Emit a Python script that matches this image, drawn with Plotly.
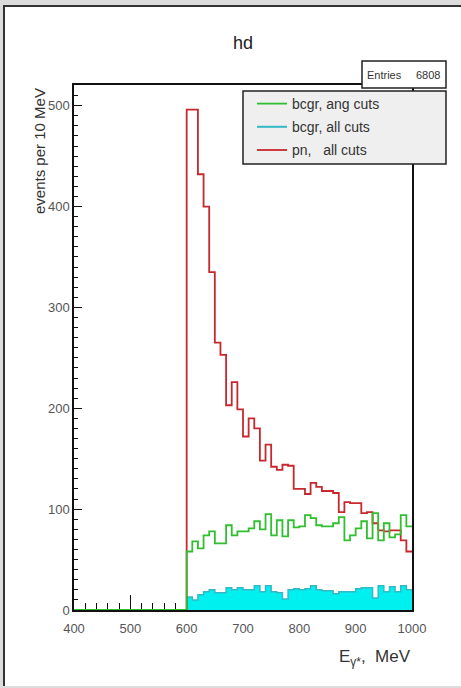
import plotly.graph_objects as go

# ---------------- data ----------------
energy_edges = [400, 410, 420, 430, 440, 450, 460, 470, 480, 490,
                500, 510, 520, 530, 540, 550, 560, 570, 580, 590,
                600, 610, 620, 630, 640, 650, 660, 670, 680, 690,
                700, 710, 720, 730, 740, 750, 760, 770, 780, 790,
                800, 810, 820, 830, 840, 850, 860, 870, 880, 890,
                900, 910, 920, 930, 940, 950, 960, 970, 980, 990, 1000]

bcgr_ang_cuts = [0, 0, 0, 0, 0, 0, 0, 0, 0, 0,
                 0, 0, 0, 0, 0, 0, 0, 0, 0, 0,
                 58, 68, 61, 74, 78, 66, 66, 84, 74, 78,
                 78, 81, 88, 80, 95, 74, 89, 73, 89, 82,
                 83, 94, 91, 84, 83, 83, 86, 92, 69, 74,
                 81, 88, 71, 96, 69, 86, 72, 75, 94, 83]

bcgr_all_cuts = [0, 0, 0, 0, 0, 0, 0, 0, 0, 0,
                 0, 0, 0, 0, 0, 0, 0, 0, 0, 0,
                 13, 10, 15, 18, 20, 17, 17, 22, 20, 22,
                 20, 20, 24, 18, 24, 18, 17, 11, 20, 21,
                 20, 21, 24, 20, 19, 19, 16, 18, 18, 18,
                 21, 22, 22, 12, 24, 18, 23, 18, 24, 20]

pn_all_cuts = [0, 0, 0, 0, 0, 0, 0, 0, 0, 0,
               0, 0, 0, 0, 0, 0, 0, 0, 0, 0,
               496, 496, 432, 400, 335, 265, 253, 203, 226, 199,
               172, 190, 180, 148, 164, 142, 139, 144, 143, 120,
               120, 115, 126, 122, 118, 118, 116, 97, 107, 106,
               106, 96, 97, 86, 79, 78, 79, 79, 69, 58]

series_names = ["bcgr, ang cuts", "bcgr, all cuts", "pn,   all cuts"]
x_tick_values = [400, 500, 600, 700, 800, 900, 1000]
y_tick_values = [0, 100, 200, 300, 400, 500]
title_text = "hd"
entries_count = "6808"

# ---------------- helpers ----------------
W, H = 461, 688
L, R, T, B = 74, 412, 85, 610  # plot area in pixels


def px(xp):
    return (xp - L) / (R - L)


def py(yp):
    return (B - yp) / (B - T)


def step(values):
    # histogram step outline: left edges + final right edge
    return energy_edges, list(values) + [values[-1]]


FONT = "Liberation Sans, Arial, Helvetica, sans-serif"
GREEN = "#2fbf2f"
CYAN_LINE = "#33b9c6"
CYAN_FILL = "#00f0f0"
RED = "#c8282d"

fig = go.Figure()

xs, ys = step(bcgr_all_cuts)
fig.add_trace(go.Scatter(x=xs, y=ys, mode="lines", line_shape="hv",
                         line=dict(color=CYAN_LINE, width=1.5),
                         fill="tozeroy", fillcolor=CYAN_FILL,
                         name=series_names[1], showlegend=False))

xs, ys = step(pn_all_cuts)
fig.add_trace(go.Scatter(x=xs, y=ys, mode="lines", line_shape="hv",
                         line=dict(color=RED, width=1.8),
                         name=series_names[2], legendrank=3, legendgroup="c"))

xs, ys = step(bcgr_ang_cuts)
fig.add_trace(go.Scatter(x=xs, y=ys, mode="lines", line_shape="hv",
                         line=dict(color=GREEN, width=1.8),
                         name=series_names[0], legendrank=1, legendgroup="a"))

# legend entry (line sample) for the filled cyan histogram
fig.add_trace(go.Scatter(x=[None], y=[None], mode="lines",
                         line=dict(color=CYAN_LINE, width=2),
                         name=series_names[1], legendrank=2, legendgroup="b"))

shapes = [
    # canvas (white) with dark left/top border
    dict(type="rect", xref="paper", yref="paper", layer="below",
         x0=px(4), x1=px(475), y0=py(686), y1=py(6),
         fillcolor="white", line=dict(width=0)),
    dict(type="line", xref="paper", yref="paper", layer="above",
         x0=px(4), x1=px(4), y0=py(686), y1=py(5), line=dict(color="#333", width=2)),
    dict(type="line", xref="paper", yref="paper", layer="above",
         x0=px(3), x1=px(475), y0=py(6), y1=py(6), line=dict(color="#333", width=2)),
    # legend box
    dict(type="rect", xref="paper", yref="paper", layer="above",
         x0=px(243), x1=px(446), y0=py(164), y1=py(91),
         fillcolor="#efefef", line=dict(color="#222", width=1.5)),
    # stats box
    dict(type="rect", xref="paper", yref="paper", layer="above",
         x0=px(362), x1=px(446), y0=py(88), y1=py(61),
         fillcolor="white", line=dict(color="#222", width=1.5)),
]

annotations = [
    dict(text=title_text, xref="paper", yref="paper", x=px(243), y=py(43),
         xanchor="center", yanchor="middle", showarrow=False,
         font=dict(family=FONT, size=18, color="#222")),
    dict(text="Entries", xref="paper", yref="paper", x=px(365), y=py(75),
         xanchor="left", yanchor="middle", showarrow=False,
         font=dict(family=FONT, size=11, color="#333")),
    dict(text=entries_count, xref="paper", yref="paper", x=px(442), y=py(75),
         xanchor="right", yanchor="middle", showarrow=False,
         font=dict(family=FONT, size=11, color="#333")),
    dict(text="events per 10 MeV", xref="paper", yref="paper", x=px(40), y=py(86),
         xanchor="center", yanchor="top", textangle=-90, showarrow=False,
         font=dict(family=FONT, size=15, color="#333")),
    dict(text="E<sub>γ*</sub>,  MeV", xref="paper", yref="paper", x=px(413), y=py(658),
         xanchor="right", yanchor="middle", showarrow=False,
         font=dict(family=FONT, size=17, color="#333")),
]

fig.update_layout(
    width=W, height=H,
    margin=dict(l=L, r=W - R, t=T, b=H - B, pad=0),
    paper_bgcolor="#dcdcdc", plot_bgcolor="white",
    font=dict(family=FONT, color="#333"),
    showlegend=True,
    legend=dict(x=px(252), y=py(88), xanchor="left", yanchor="top",
                bgcolor="rgba(0,0,0,0)", borderwidth=0,
                font=dict(family=FONT, size=14, color="#333"),
                tracegroupgap=2, itemwidth=30),
    shapes=shapes, annotations=annotations,
    xaxis=dict(range=[400, 1000], tickvals=x_tick_values,
               showline=True, linecolor="#111", linewidth=1.5, mirror=True,
               ticks="inside", ticklen=15, tickwidth=1.2, tickcolor="#111",
               minor=dict(dtick=20, tick0=400, ticks="inside", ticklen=7,
                          tickwidth=1.2, tickcolor="#111"),
               showgrid=False, zeroline=False, layer="below traces",
               tickfont=dict(family=FONT, size=13, color="#555"),
               ticklabelstandoff=6),
    yaxis=dict(range=[0, 520.5], tickvals=y_tick_values,
               showline=True, linecolor="#111", linewidth=1.5, mirror=True,
               ticks="inside", ticklen=8, tickwidth=1.2, tickcolor="#111",
               minor=dict(dtick=10, tick0=0, ticks="inside", ticklen=4,
                          tickwidth=1, tickcolor="#111"),
               showgrid=False, zeroline=False,
               tickfont=dict(family=FONT, size=13, color="#555"),
               ticklabelstandoff=0),
)

fig.write_html("out.html", config={"displayModeBar": False},
               post_script="document.body.style.margin='0px';")
